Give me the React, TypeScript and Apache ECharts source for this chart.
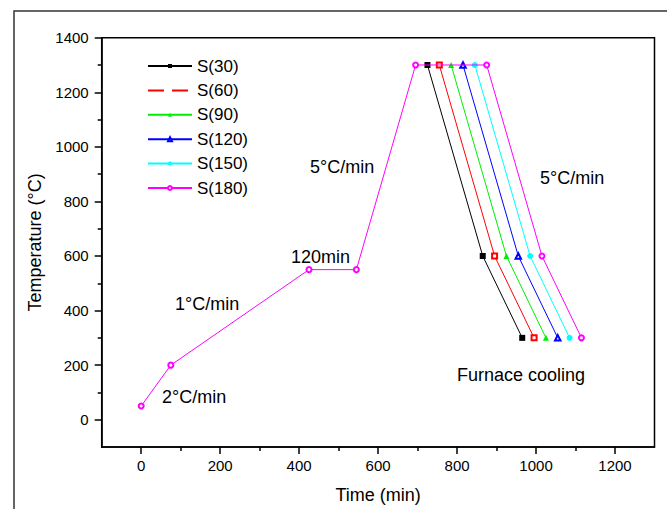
import React, { useEffect, useRef } from 'react';
import * as echarts from 'echarts';

const seriesNames = ['S(30)', 'S(60)', 'S(90)', 'S(120)', 'S(150)', 'S(180)'];
const temperatures = [50, 200, 550, 550, 1300, 1300, 600, 300];
const timeS30 = [0, 75, 425, 545, 695, 725, 865, 965];
const timeS60 = [0, 75, 425, 545, 695, 755, 895, 995];
const timeS90 = [0, 75, 425, 545, 695, 785, 925, 1025];
const timeS120 = [0, 75, 425, 545, 695, 815, 955, 1055];
const timeS150 = [0, 75, 425, 545, 695, 845, 985, 1085];
const timeS180 = [0, 75, 425, 545, 695, 875, 1015, 1115];
const seriesTimes = [timeS30, timeS60, timeS90, timeS120, timeS150, timeS180];

const xLabelTicks = [0, 200, 400, 600, 800, 1000, 1200];
const xMinorTicks = [100, 300, 500, 700, 900, 1100];
const yLabelTicks = [0, 200, 400, 600, 800, 1000, 1200, 1400];
const yMinorTicks = [100, 300, 500, 700, 900, 1100, 1300];

const annotationTexts = ['2°C/min', '1°C/min', '120min', '5°C/min', '5°C/min', 'Furnace cooling'];

const colors = ['#000000', '#ff0000', '#00ee00', '#0000ff', '#00ffff', '#ff00ff'];
const symbols = ['rect', 'emptyRect', 'triangle', 'emptyTriangle', 'circle', 'emptyCircle'];
const symbolSizes = [6, 5, 6, 5.5, 6, 5];
const FONT = '"Liberation Sans", Arial, sans-serif';

export default function App() {
  const ref = useRef<HTMLDivElement>(null);
  useEffect(() => {
    if (!ref.current) return;
    const chart = echarts.init(ref.current, undefined, { renderer: 'svg' });
    const annPos = [
      [162, 397],
      [175, 304],
      [291, 257],
      [310, 167],
      [540, 178],
      [457, 375],
    ];
    const last = seriesNames.length - 1;
    const series = seriesNames.map((name, i) => {
      const times = seriesTimes[i];
      const holdEnd = times[5];
      const lastT = times[times.length - 1];
      const p = (holdEnd - times[0]) / (lastT - times[0]);
      const size = symbolSizes[i];
      const lineColor =
        i === last
          ? colors[i]
          : {
              type: 'linear',
              x: 0,
              y: 0,
              x2: 1,
              y2: 0,
              colorStops: [
                { offset: 0, color: 'rgba(0,0,0,0)' },
                { offset: p, color: 'rgba(0,0,0,0)' },
                { offset: p, color: colors[i] },
                { offset: 1, color: colors[i] },
              ],
            };
      return {
        name,
        type: 'line',
        xAxisIndex: 0,
        yAxisIndex: 0,
        data: times.map((t, j) => [t, temperatures[j]]),
        symbol: symbols[i],
        symbolSize: i === last ? size : (_v: any, prm: any) => (prm.dataIndex >= 5 ? size : 0),
        showAllSymbol: true,
        lineStyle: { color: lineColor, width: 1, type: 'solid' },
        itemStyle: { color: colors[i], borderWidth: 1 },
        z: 2 + i,
      };
    });
    const axisCommon = {
      splitLine: { show: false },
      axisLine: { show: true, onZero: false, lineStyle: { color: '#000', width: 1.5 } },
    };
    const fmt = (v: number) => String(v);
    chart.setOption({
      animation: false,
      backgroundColor: '#ffffff',
      grid: {
        left: 101.7,
        top: 37.7,
        right: 12.5,
        bottom: 59.5,
        show: true,
        borderColor: '#000',
        borderWidth: 1.5,
        backgroundColor: 'transparent',
      },
      legend: {
        orient: 'vertical',
        left: 147,
        top: 57.5,
        padding: 0,
        itemWidth: 44,
        itemHeight: 5,
        itemGap: 7.4,
        textStyle: { fontFamily: FONT, fontSize: 17, color: '#000' },
        data: seriesNames.map((n, i) =>
          i === 1
            ? { name: n, itemStyle: { opacity: 0 }, lineStyle: { color: colors[i], type: [16, 8] } }
            : { name: n, lineStyle: { color: colors[i] } }
        ),
      },
      xAxis: [
        {
          type: 'value',
          min: -100,
          max: 1300,
          position: 'bottom',
          ...axisCommon,
          name: 'Time (min)',
          nameLocation: 'middle',
          nameGap: 39,
          nameTextStyle: { fontFamily: FONT, fontSize: 18, color: '#000' },
          axisTick: { show: true, inside: false, length: 7, customValues: xLabelTicks, lineStyle: { color: '#000', width: 1.5 } },
          axisLabel: { customValues: xLabelTicks, formatter: fmt, margin: 11, fontFamily: FONT, fontSize: 15, color: '#000' },
        },
        {
          type: 'value',
          min: -100,
          max: 1300,
          position: 'bottom',
          splitLine: { show: false },
          axisLine: { show: false, onZero: false },
          axisTick: { show: true, inside: false, length: 4, customValues: xMinorTicks, lineStyle: { color: '#000', width: 1.5 } },
          axisLabel: { show: false },
        },
      ],
      yAxis: [
        {
          type: 'value',
          min: -100,
          max: 1400,
          position: 'left',
          ...axisCommon,
          name: 'Temperature (°C)',
          nameLocation: 'middle',
          nameGap: 56,
          nameRotate: 90,
          nameTextStyle: { fontFamily: FONT, fontSize: 18, color: '#000' },
          axisTick: { show: true, inside: false, length: 7, customValues: yLabelTicks, lineStyle: { color: '#000', width: 1.5 } },
          axisLabel: { customValues: yLabelTicks, formatter: fmt, margin: 13, fontFamily: FONT, fontSize: 15, color: '#000' },
        },
        {
          type: 'value',
          min: -100,
          max: 1400,
          position: 'left',
          splitLine: { show: false },
          axisLine: { show: false, onZero: false },
          axisTick: { show: true, inside: false, length: 4, customValues: yMinorTicks, lineStyle: { color: '#000', width: 1.5 } },
          axisLabel: { show: false },
        },
      ],
      graphic: [
        {
          type: 'rect',
          shape: { x: 14, y: 11, width: 700, height: 600 },
          style: { fill: 'none', stroke: '#333', lineWidth: 1.5 },
          silent: true,
          z: -10,
        },
        ...annotationTexts.map((t, i) => ({
          type: 'text',
          x: annPos[i][0],
          y: annPos[i][1],
          style: {
            text: t,
            fontFamily: FONT,
            fontSize: 18,
            fill: '#000',
            verticalAlign: 'middle',
          },
          z: 20,
        })),
      ],
      series,
    });
    return () => chart.dispose();
  }, []);
  return (
    <div
      ref={ref}
      style={{ position: 'absolute', left: 0, top: 0, width: 667, height: 509 }}
    />
  );
}
